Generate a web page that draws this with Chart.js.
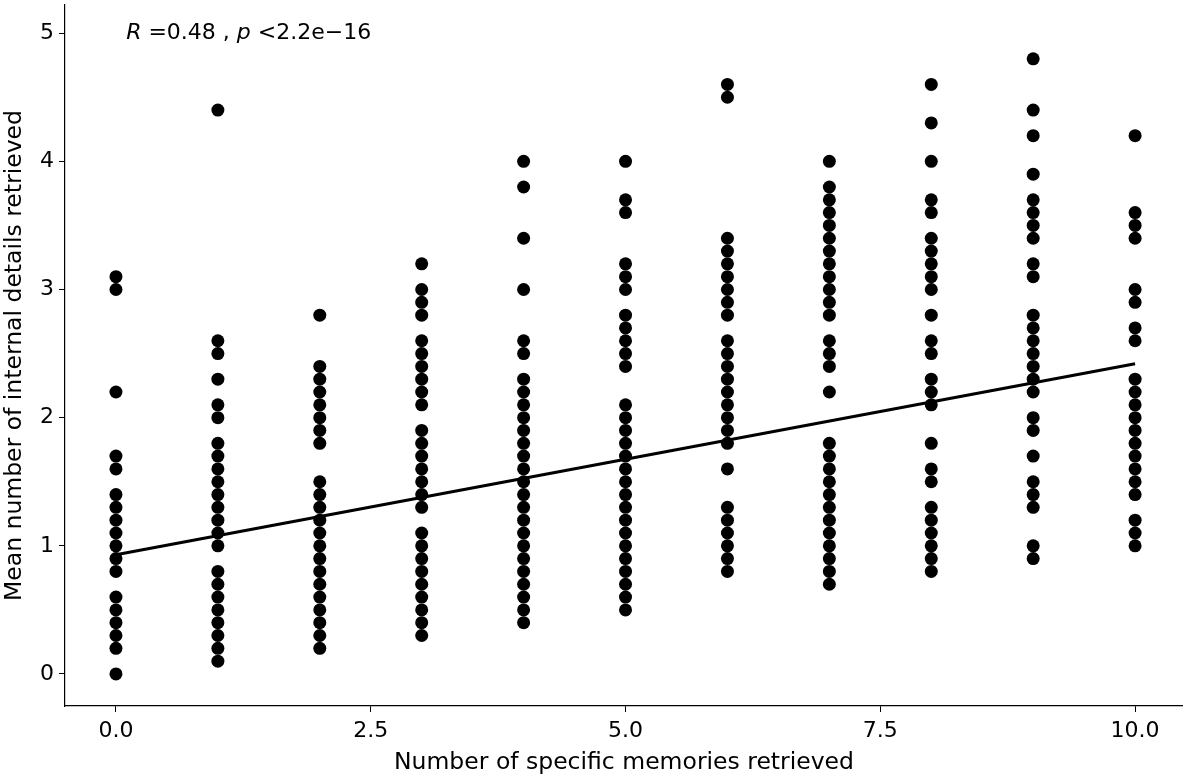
<!DOCTYPE html>
<html>
<head>
<meta charset="utf-8">
<script src="https://cdn.jsdelivr.net/npm/chart.js@4/dist/chart.umd.min.js"></script>
<style>
  html, body { margin: 0; padding: 0; background: #fff; }
  #wrap { width: 1183px; height: 780px; }
</style>
</head>
<body>
<div id="wrap"><canvas id="scatterChart" width="1183" height="780"></canvas></div>
<script>
// Number of specific memories retrieved (x) and the internal-detail means found at each
const memories = [0, 1, 2, 3, 4, 5, 6, 7, 8, 9, 10];
const details0 = [3.1, 3.0, 2.2, 1.7, 1.6, 1.4, 1.3, 1.2, 1.1, 1.0, 0.9, 0.8, 0.6, 0.5, 0.4, 0.3, 0.2, 0.0];
const details1 = [4.4, 2.6, 2.5, 2.3, 2.1, 2.0, 1.8, 1.7, 1.6, 1.5, 1.4, 1.3, 1.2, 1.1, 1.0, 0.8, 0.7, 0.6, 0.5, 0.4, 0.3, 0.2, 0.1];
const details2 = [2.8, 2.4, 2.3, 2.2, 2.1, 2.0, 1.9, 1.8, 1.5, 1.4, 1.3, 1.2, 1.1, 1.0, 0.9, 0.8, 0.7, 0.6, 0.5, 0.4, 0.3, 0.2];
const details3 = [3.2, 3.0, 2.9, 2.8, 2.6, 2.5, 2.4, 2.3, 2.2, 2.1, 1.9, 1.8, 1.7, 1.6, 1.5, 1.4, 1.3, 1.1, 1.0, 0.9, 0.8, 0.7, 0.6, 0.5, 0.4, 0.3];
const details4 = [4.0, 3.8, 3.4, 3.0, 2.6, 2.5, 2.3, 2.2, 2.1, 2.0, 1.9, 1.8, 1.7, 1.6, 1.5, 1.4, 1.3, 1.2, 1.1, 1.0, 0.9, 0.8, 0.7, 0.6, 0.5, 0.4];
const details5 = [4.0, 3.7, 3.6, 3.2, 3.1, 3.0, 2.8, 2.7, 2.6, 2.5, 2.4, 2.1, 2.0, 1.9, 1.8, 1.7, 1.6, 1.5, 1.4, 1.3, 1.2, 1.1, 1.0, 0.9, 0.8, 0.7, 0.6, 0.5];
const details6 = [4.6, 4.5, 3.4, 3.3, 3.2, 3.1, 3.0, 2.9, 2.8, 2.6, 2.5, 2.4, 2.3, 2.2, 2.1, 2.0, 1.9, 1.8, 1.6, 1.3, 1.2, 1.1, 1.0, 0.9, 0.8];
const details7 = [4.0, 3.8, 3.7, 3.6, 3.5, 3.4, 3.3, 3.2, 3.1, 3.0, 2.9, 2.8, 2.6, 2.5, 2.4, 2.2, 1.8, 1.7, 1.6, 1.5, 1.4, 1.3, 1.2, 1.1, 1.0, 0.9, 0.8, 0.7];
const details8 = [4.6, 4.3, 4.0, 3.7, 3.6, 3.4, 3.3, 3.2, 3.1, 3.0, 2.8, 2.6, 2.5, 2.3, 2.2, 2.1, 1.8, 1.6, 1.5, 1.3, 1.2, 1.1, 1.0, 0.9, 0.8];
const details9 = [4.8, 4.4, 4.2, 3.9, 3.7, 3.6, 3.5, 3.4, 3.2, 3.1, 2.8, 2.7, 2.6, 2.5, 2.4, 2.3, 2.2, 2.0, 1.9, 1.7, 1.5, 1.4, 1.3, 1.0, 0.9];
const details10 = [4.2, 3.6, 3.5, 3.4, 3.0, 2.9, 2.7, 2.6, 2.3, 2.2, 2.1, 2.0, 1.9, 1.8, 1.7, 1.6, 1.5, 1.4, 1.2, 1.1, 1.0];
const detailColumns = [details0, details1, details2, details3, details4, details5, details6, details7, details8, details9, details10];

// fitted regression line end points
const fitX = [0, 10];
const fitY = [0.93, 2.42];

const xTicks = [0, 2.5, 5, 7.5, 10];
const yTicks = [0, 1, 2, 3, 4, 5];

const points = [];
memories.forEach((m, i) => {
    detailColumns[i].forEach(v => points.push({ x: m, y: v }));
});
const fitLine = fitX.map((x, i) => ({ x: x, y: fitY[i] }));

const font = 'DejaVu Sans';

// R / p label in the top left, drawn after the datasets
const corLabel = {
    id: 'corLabel',
    afterDatasetsDraw(chart) {
        const ctx = chart.ctx;
        const x0 = chart.scales.x.getPixelForValue(0.1);
        const y0 = chart.scales.y.getPixelForValue(5.0);
        const parts = [
            ['R', true], [' =0.48 , ', false], ['p', true], [' <2.2e\u221216', false]
        ];
        ctx.save();
        ctx.fillStyle = '#000';
        ctx.textBaseline = 'middle';
        let x = x0;
        parts.forEach(([txt, it]) => {
            ctx.font = (it ? 'italic ' : '') + '22px "' + font + '"';
            ctx.fillText(txt, x, y0);
            x += ctx.measureText(txt).width;
        });
        ctx.restore();
    }
};

// no extra room for overhanging tick labels
function noPad(s) {
    s.paddingTop = 0;
    s.paddingBottom = 0;
    s.paddingLeft = 0;
    s.paddingRight = 0;
}

function initChart() {
    const ctx = document.getElementById('scatterChart').getContext('2d');
    new Chart(ctx, {
        type: 'scatter',
        data: {
            datasets: [{
                type: 'line',
                data: fitLine,
                borderColor: '#000',
                borderWidth: 3,
                pointRadius: 0,
                fill: false,
                order: 0
            }, {
                data: points,
                backgroundColor: '#000',
                borderWidth: 0,
                pointRadius: 6.5,
                order: 1
            }]
        },
        options: {
            responsive: false,
            animation: false,
            layout: { autoPadding: false, padding: { top: 5, right: 0, left: 0, bottom: 0 } },
            plugins: {
                legend: { display: false },
                tooltip: { enabled: false }
            },
            scales: {
                x: {
                    type: 'linear',
                    min: -0.5,
                    max: 10.47,
                    afterBuildTicks: s => { s.ticks = xTicks.map(v => ({ value: v })); },
                    afterFit: s => { s.height = 74; noPad(s); },
                    grid: { drawOnChartArea: false, drawTicks: true, tickLength: 6, color: '#000', lineWidth: 1 },
                    border: { display: true, color: '#000', width: 1.2 },
                    ticks: {
                        padding: 6,
                        color: '#000',
                        font: { family: font, size: 22 },
                        callback: v => v.toFixed(1)
                    },
                    title: {
                        display: true,
                        text: 'Number of specific memories retrieved',
                        color: '#000',
                        font: { family: font, size: 23.5 },
                        padding: { top: 0, bottom: 3 }
                    }
                },
                y: {
                    type: 'linear',
                    min: -0.25,
                    max: 5.22,
                    afterBuildTicks: s => { s.ticks = yTicks.map(v => ({ value: v })); },
                    afterFit: s => { s.width = 65; noPad(s); },
                    grid: { drawOnChartArea: false, drawTicks: true, tickLength: 6, color: '#000', lineWidth: 1 },
                    border: { display: true, color: '#000', width: 1.2 },
                    ticks: {
                        padding: 5,
                        color: '#000',
                        font: { family: font, size: 22 }
                    },
                    title: {
                        display: true,
                        text: 'Mean number of internal details retrieved',
                        color: '#000',
                        font: { family: font, size: 23.5 },
                        padding: { top: 1, bottom: 0 }
                    }
                }
            }
        },
        plugins: [corLabel]
    });
}

document.addEventListener('DOMContentLoaded', initChart);
</script>
</body>
</html>
